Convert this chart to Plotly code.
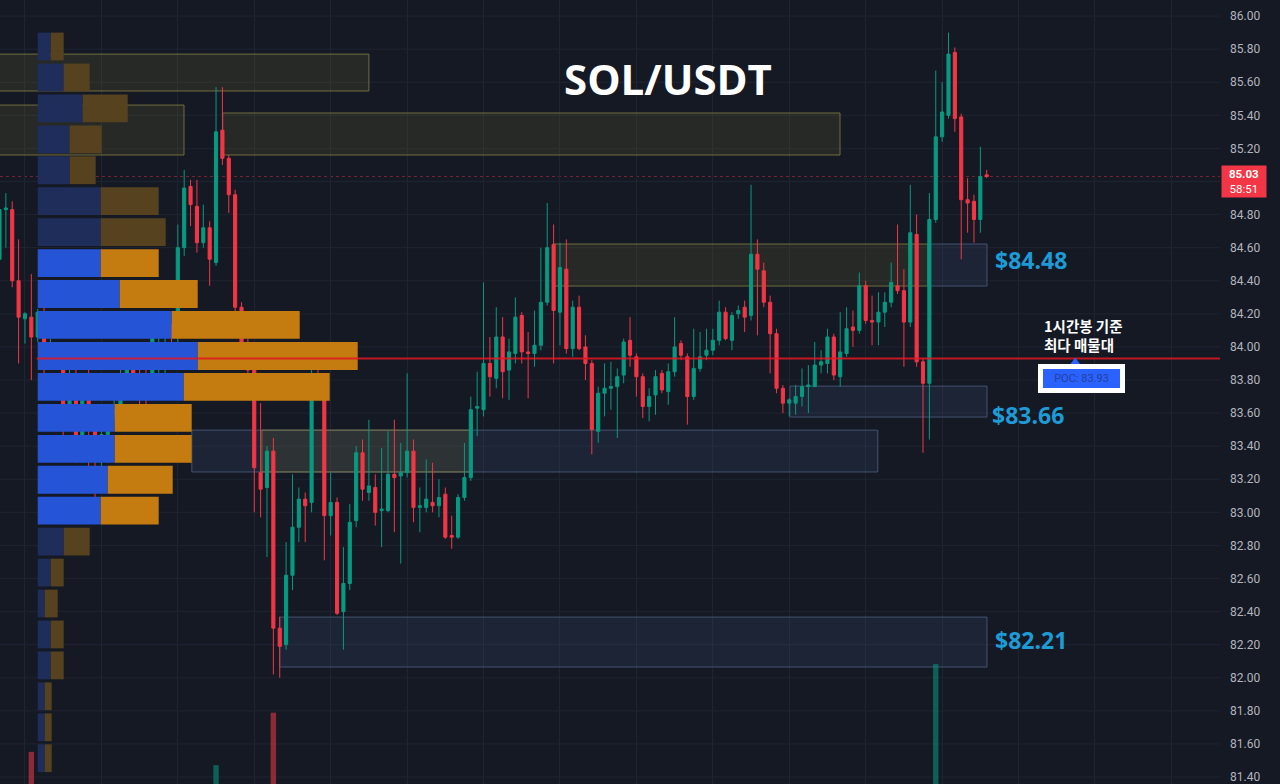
import plotly.graph_objects as go

# ---------------- data ----------------
opens = [84.53, 84.83, 84.83, 84.40, 84.17, 84.18, 84.06, 84.21, 83.95, 84.01,
         83.95, 83.65, 83.82, 83.43, 83.69, 83.54, 83.41, 83.47, 83.59, 83.62,
         83.81, 83.90, 83.79, 83.74, 83.72, 84.06, 84.06, 84.11, 84.06, 84.60,
         84.97, 84.85, 84.63, 84.72, 84.51, 85.31, 85.14, 84.92, 84.24, 84.02,
         83.86, 83.24, 83.15, 83.37, 82.30, 82.20, 82.62, 82.91, 83.08, 83.06,
         83.81, 83.76, 82.98, 83.06, 82.40, 82.57, 82.95, 83.36, 83.12, 83.15,
         83.01, 83.01, 83.23, 83.22, 83.24, 83.37, 83.03, 83.03, 83.06, 83.04,
         83.11, 82.86, 82.85, 83.09, 83.21, 83.63, 83.62, 83.90, 83.81, 84.06,
         83.86, 83.96, 84.19, 83.97, 83.96, 84.01, 84.27, 84.62, 84.21, 84.47,
         83.99, 84.24, 84.00, 83.90, 83.49, 83.72, 83.75, 83.76, 83.83, 84.04,
         83.94, 83.82, 83.64, 83.71, 83.84, 83.73, 83.85, 84.02, 83.94, 83.70,
         83.87, 83.95, 83.98, 84.04, 84.21, 84.04, 84.20, 84.24, 84.19, 84.56,
         84.46, 84.27, 84.08, 83.75, 83.66, 83.66, 83.70, 83.76, 83.76, 83.89,
         83.90, 84.06, 83.82, 83.96, 84.12, 84.10, 84.37, 84.16, 84.15, 84.21,
         84.27, 84.37, 84.34, 84.15, 84.68, 83.91, 83.78, 84.77, 85.27, 85.40,
         85.78, 85.39, 84.89, 84.88, 84.77, 85.04]
highs = [84.94, 84.93, 84.88, 84.65, 84.21, 84.44, 84.23, 84.30, 84.05, 84.02,
         84.00, 83.90, 83.88, 83.83, 84.00, 83.65, 83.59, 83.62, 83.68, 83.99,
         84.01, 84.01, 83.89, 83.92, 84.09, 84.13, 84.13, 84.14, 84.74, 85.07,
         85.01, 85.01, 84.86, 84.76, 85.57, 85.57, 85.16, 84.95, 84.27, 84.05,
         83.88, 83.66, 83.40, 83.45, 82.37, 82.82, 83.23, 83.15, 83.12, 84.02,
         83.86, 83.80, 83.24, 83.09, 82.79, 83.05, 83.40, 83.44, 83.56, 83.23,
         83.39, 83.49, 83.56, 83.42, 83.84, 83.44, 83.15, 83.32, 83.30, 83.20,
         83.15, 82.98, 83.11, 83.42, 83.70, 83.85, 84.39, 84.06, 84.24, 84.18,
         84.05, 84.30, 84.21, 84.09, 84.22, 84.60, 84.87, 84.74, 84.63, 84.65,
         84.28, 84.31, 84.07, 83.92, 83.76, 83.90, 83.91, 83.87, 84.05, 84.18,
         83.96, 83.84, 83.75, 83.86, 83.86, 83.90, 84.18, 84.04, 83.96, 84.11,
         84.09, 84.11, 84.11, 84.28, 84.24, 84.21, 84.25, 84.28, 84.98, 84.65,
         84.51, 84.31, 84.11, 83.77, 83.69, 83.77, 83.87, 83.89, 84.03, 83.98,
         84.11, 84.08, 84.21, 84.24, 84.22, 84.45, 84.40, 84.31, 84.33, 84.33,
         84.51, 84.74, 84.47, 84.98, 84.80, 83.93, 84.93, 85.67, 85.60, 85.90,
         85.81, 85.41, 85.02, 84.92, 85.21, 85.07]
lows = [84.50, 84.60, 84.36, 83.90, 84.02, 83.80, 84.03, 83.82, 83.93, 83.88,
        83.45, 83.59, 83.30, 83.30, 83.21, 83.00, 83.26, 83.30, 83.55, 83.60,
        83.78, 83.71, 83.56, 83.60, 83.70, 83.82, 83.84, 83.93, 84.03, 84.55,
        84.73, 84.57, 84.60, 84.37, 84.49, 85.10, 84.81, 84.20, 83.98, 83.83,
        83.00, 82.97, 82.73, 82.02, 82.00, 82.17, 82.53, 82.82, 82.82, 83.00,
        83.70, 82.71, 82.86, 82.38, 82.17, 82.53, 82.91, 83.07, 83.07, 82.92,
        82.79, 83.00, 82.88, 82.69, 83.21, 82.94, 82.88, 83.00, 83.00, 82.97,
        82.84, 82.78, 82.84, 83.07, 83.19, 83.46, 83.58, 83.70, 83.75, 83.69,
        83.68, 83.90, 83.90, 83.69, 83.88, 83.98, 84.25, 83.90, 84.01, 83.96,
        83.94, 83.98, 83.80, 83.35, 83.42, 83.58, 83.62, 83.45, 83.78, 83.88,
        83.70, 83.57, 83.55, 83.59, 83.72, 83.65, 83.82, 83.92, 83.53, 83.68,
        83.85, 83.92, 83.95, 84.01, 84.04, 83.98, 84.17, 84.09, 84.16, 84.07,
        84.24, 83.84, 83.72, 83.60, 83.58, 83.59, 83.64, 83.60, 83.76, 83.84,
        83.84, 83.80, 83.76, 83.94, 84.00, 84.08, 84.14, 84.01, 84.01, 84.12,
        84.24, 84.32, 83.88, 84.12, 83.88, 83.36, 83.44, 84.75, 85.24, 85.38,
        85.30, 84.53, 84.69, 84.63, 84.69, 85.02]
closes = [84.83, 84.84, 84.40, 84.18, 84.20, 84.06, 84.21, 83.95, 84.02, 83.95,
          83.65, 83.82, 83.43, 83.69, 83.56, 83.41, 83.47, 83.59, 83.62, 83.81,
          83.90, 83.79, 83.73, 83.72, 84.06, 84.07, 84.10, 84.06, 84.60, 84.96,
          84.86, 84.63, 84.72, 84.53, 85.30, 85.14, 84.92, 84.24, 84.01, 83.86,
          83.27, 83.14, 83.37, 82.30, 82.19, 82.62, 82.91, 83.08, 83.04, 83.82,
          83.75, 82.98, 83.06, 82.39, 82.57, 82.94, 83.36, 83.14, 83.16, 83.00,
          83.02, 83.23, 83.21, 83.24, 83.37, 83.03, 83.04, 83.08, 83.04, 83.09,
          82.85, 82.85, 83.09, 83.21, 83.62, 83.64, 83.90, 83.82, 84.06, 83.85,
          83.97, 84.18, 83.97, 83.96, 84.01, 84.27, 84.60, 84.22, 84.48, 83.99,
          84.24, 83.99, 83.90, 83.50, 83.72, 83.75, 83.76, 83.82, 84.03, 83.95,
          83.82, 83.64, 83.70, 83.82, 83.74, 83.85, 84.00, 83.95, 83.70, 83.87,
          83.94, 83.98, 84.04, 84.21, 84.05, 84.19, 84.22, 84.18, 84.56, 84.47,
          84.27, 84.08, 83.75, 83.66, 83.68, 83.70, 83.76, 83.77, 83.89, 83.91,
          84.06, 83.83, 83.97, 84.11, 84.10, 84.37, 84.16, 84.15, 84.21, 84.27,
          84.39, 84.34, 84.15, 84.69, 83.91, 83.78, 84.77, 85.27, 85.42, 85.77,
          85.38, 84.89, 84.87, 84.77, 85.03, 85.03]
candle_idx = list(range(len(opens)))

# volume profile (price row centres, buy / sell volume in arbitrary units)
vp_price = [85.816, 85.629, 85.442, 85.255, 85.068, 84.881, 84.694, 84.507,
            84.320, 84.133, 83.945, 83.758, 83.571, 83.384, 83.197, 83.010,
            82.823, 82.636, 82.449, 82.262, 82.075, 81.888, 81.701, 81.514]
vp_buy = [13, 26, 45, 32, 32, 63, 63, 63, 82, 134, 160, 146,
          77, 77, 70, 63, 26, 13, 7, 13, 13, 7, 7, 7]
vp_sell = [13, 26, 45, 32, 26, 58, 65, 58, 78, 128, 160, 146,
           77, 77, 65, 58, 26, 13, 13, 13, 13, 7, 7, 7]
vp_value_area = [False] * 7 + [True] * 9 + [False] * 8

poc_price = 83.93
last_price = 85.03
countdown = "58:51"

# price-axis tick labels (85.00 is hidden under the live price tag)
tick_vals = [86.0, 85.8, 85.6, 85.4, 85.2, 84.8, 84.6, 84.4, 84.2, 84.0, 83.8,
             83.6, 83.4, 83.2, 83.0, 82.8, 82.6, 82.4, 82.2, 82.0, 81.8, 81.6, 81.4]
grid_vals = [86.0, 85.8, 85.6, 85.4, 85.2, 85.0, 84.8, 84.6, 84.4, 84.2, 84.0, 83.8,
             83.6, 83.4, 83.2, 83.0, 82.8, 82.6, 82.4, 82.2, 82.0, 81.8, 81.6, 81.4]

# bottom volume bars that reach into view
vol_idx = [5, 34, 43, 147]
vol_val = [41, 24, 91, 153]
vol_up = [False, True, False, True]

# supply / demand zones: (start candle, end candle, low, high, kind)
zone_x0 = [-3, -3, 35.05, 86.9, 145.8, 124.1, 30.2, 41.2, 44.0]
zone_x1 = [58.0, 28.97, 131.97, 145.8, 155.05, 155.05, 137.9, 73.9, 155.05]
zone_lo = [85.547, 85.160, 85.160, 84.368, 84.368, 83.576, 83.244, 83.244, 82.065]
zone_hi = [85.770, 85.462, 85.414, 84.622, 84.622, 83.763, 83.497, 83.497, 82.367]
zone_kind = ["supply", "supply", "supply", "supply", "demand", "demand",
             "demand", "supply", "demand"]

level_labels = ["$84.48", "$83.66", "$82.21"]
level_y = [84.525, 83.59, 82.23]
level_x = [156.0, 155.5, 156.0]

title_text = "SOL/USDT"
note_text = "1시간봉 기준<br>최다 매물대"

# ---------------- style ----------------
BG = "#151924"
GRID = "#1f2431"
UP = "#089981"
DOWN = "#f23645"

X_LO, X_HI = 0.08, 191.63
Y_LO, Y_HI = 81.358, 86.097

fig = go.Figure()

# volume profile
blue = ["#2554d6" if v else "#1f2d5a" for v in vp_value_area]
orange = ["#c47c10" if v else "#56421f" for v in vp_value_area]
fig.add_trace(go.Bar(y=vp_price, x=vp_buy, base=[0] * len(vp_buy), orientation="h",
                     width=0.168, marker=dict(color=blue, line=dict(width=0)),
                     xaxis="x2", yaxis="y", hoverinfo="skip", showlegend=False))
fig.add_trace(go.Bar(y=vp_price, x=vp_sell, base=vp_buy, orientation="h",
                     width=0.168, marker=dict(color=orange, line=dict(width=0)),
                     xaxis="x2", yaxis="y", hoverinfo="skip", showlegend=False))

# bottom volume bars
fig.add_trace(go.Bar(x=vol_idx, y=vol_val, width=0.85,
                     marker=dict(color=["rgba(8,153,129,0.55)" if u else "rgba(242,54,69,0.55)"
                                        for u in vol_up], line=dict(width=0)),
                     xaxis="x", yaxis="y2", hoverinfo="skip", showlegend=False))

# candles
fig.add_trace(go.Candlestick(
    x=candle_idx, open=opens, high=highs, low=lows, close=closes,
    increasing=dict(line=dict(color=UP, width=1), fillcolor=UP),
    decreasing=dict(line=dict(color=DOWN, width=1), fillcolor=DOWN),
    whiskerwidth=0, showlegend=False, hoverinfo="skip"))

shapes = []
for gv in grid_vals:
    shapes.append(dict(type="line", xref="paper", yref="y", x0=0, x1=1, y0=gv, y1=gv,
                       line=dict(color=GRID, width=1), layer="below"))
for x0, x1, lo, hi, k in zip(zone_x0, zone_x1, zone_lo, zone_hi, zone_kind):
    if k == "supply":
        fill, line = "rgba(120,115,50,0.18)", "rgba(140,135,70,0.75)"
    else:
        fill, line = "rgba(70,95,140,0.17)", "rgba(80,100,135,0.75)"
    shapes.append(dict(type="rect", xref="x", yref="y", x0=x0, x1=x1, y0=lo, y1=hi,
                       fillcolor=fill, line=dict(color=line, width=1), layer="between"))

# current price line
shapes.append(dict(type="line", xref="paper", yref="y", x0=0, x1=1, y0=last_price, y1=last_price,
                   line=dict(color="rgba(242,54,69,0.45)", width=1, dash="dot"), layer="between"))
# POC line
shapes.append(dict(type="line", xref="x", yref="y", x0=5.85, x1=X_HI, y0=poc_price, y1=poc_price,
                   line=dict(color="rgba(225,25,35,0.85)", width=2), layer="above"))
# small callout triangle
shapes.append(dict(type="path", xref="x", yref="y",
                   path="M 168.9,83.935 L 168.1,83.895 L 169.7,83.895 Z",
                   fillcolor="#2962ff", line=dict(width=0), layer="above"))
fig.update_layout(shapes=shapes)

annotations = [
    dict(text="<b>" + title_text + "</b>", xref="paper", yref="paper", x=0.5475, y=0.9005,
         xanchor="center", yanchor="middle", showarrow=False,
         font=dict(family="Open Sans", size=42, color="#ffffff")),
    dict(text="<b>" + note_text + "</b>", xref="x", yref="y", x=163.7, y=84.075,
         xanchor="left", yanchor="middle", align="left", showarrow=False,
         font=dict(family="Noto Sans CJK KR", size=14.5, color="#ffffff")),
    dict(text="POC: 83.93", xref="x", yref="y", x=169.9, y=83.809,
         xanchor="center", yanchor="middle", showarrow=False,
         bgcolor="#2962ff", bordercolor="#ffffff", borderwidth=5, borderpad=2,
         width=73, height=15,
         font=dict(family="Roboto", size=11, color="#23409e")),
    dict(text="<b>%.2f</b><br>%s" % (last_price, countdown), xref="paper", yref="y",
         x=1, y=last_price, xanchor="left", yanchor="middle", xshift=1, yshift=-5,
         showarrow=False, bgcolor=DOWN, borderpad=1, width=42, align="center",
         font=dict(family="Roboto", size=11.5, color="#ffffff")),
]
for t, yy, xx in zip(level_labels, level_y, level_x):
    annotations.append(dict(text="<b>" + t + "</b>", xref="x", yref="y", x=xx, y=yy,
                            xanchor="left", yanchor="middle", showarrow=False,
                            font=dict(family="Open Sans", size=23, color="#1e9bd7")))
fig.update_layout(annotations=annotations)

fig.update_layout(
    width=1280, height=784,
    margin=dict(l=0, r=60, t=0, b=0, pad=0),
    paper_bgcolor=BG, plot_bgcolor=BG,
    barmode="overlay",
    xaxis=dict(range=[X_LO, X_HI], showgrid=True, gridcolor=GRID, gridwidth=1,
               tick0=4, dtick=12, showticklabels=False, zeroline=False,
               rangeslider=dict(visible=False), fixedrange=True),
    xaxis2=dict(range=[-37.7, 1182.3], overlaying="x", visible=False, fixedrange=True),
    yaxis=dict(range=[Y_LO, Y_HI], side="right", showgrid=False, zeroline=False, ticks="",
               tickmode="array", tickvals=tick_vals,
               ticktext=["%.2f" % v for v in tick_vals],
               ticklabelstandoff=9, ticklabeloverflow="allow",
               tickfont=dict(family="Roboto", size=12, color="#b2b5be")),
    yaxis2=dict(range=[0, 1000], overlaying="y", visible=False, fixedrange=True),
    showlegend=False,
)

fig.write_html("out.html", config={"displayModeBar": False},
               post_script="document.body.style.margin='0';"
               "document.body.style.background='%s';" % BG)
